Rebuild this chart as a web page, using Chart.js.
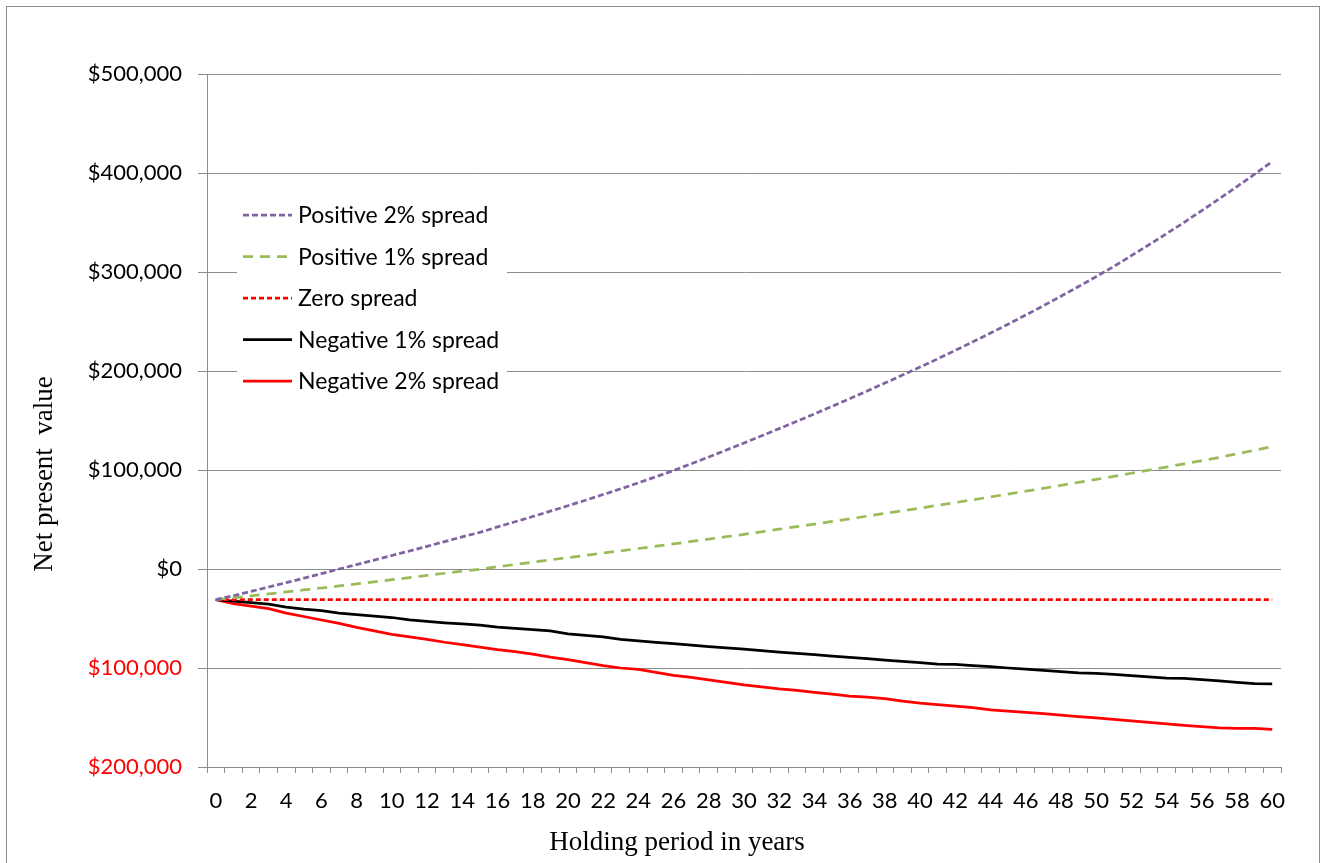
<!DOCTYPE html>
<html lang="en">
<head>
    <meta charset="UTF-8">
    <title>Net present value by holding period</title>
    <script src="https://cdn.jsdelivr.net/npm/chart.js"></script>
    <style>
        body { margin: 0; background: #fff; }
        #frame { position: absolute; left: 6px; top: 6px; width: 1312px; height: 900px; border: 1px solid #8c8c8c; }
        #wrap { position: absolute; left: 0; top: 0; width: 1325px; height: 863px; }
    </style>
</head>
<body>
    <div id="frame"></div>
    <div id="wrap"><canvas id="npvChart"></canvas></div>

    <script>
        // holding period, years 0..60
        const years = ['0','1','2','3','4','5','6','7','8','9','10','11','12','13','14','15','16','17','18','19','20',
            '21','22','23','24','25','26','27','28','29','30','31','32','33','34','35','36','37','38','39','40',
            '41','42','43','44','45','46','47','48','49','50','51','52','53','54','55','56','57','58','59','60'];

        // net present value in dollars
        const positive2 = [-31000,-27000,-22600,-18200,-13800,-9300,-4700,0,4500,9000,13600,18200,22900,27700,32500,37000,
            42500,47700,53000,58400,63900,69500,75200,81000,87000,93200,99500,106300,113200,120200,127300,134500,141800,
            149200,156700,164300,172000,179800,187800,195900,204000,212300,220800,229500,238300,247300,256500,265900,
            275500,285300,295300,305500,316500,327500,338700,350200,362000,374000,386300,398800,411500];
        const positive1 = [-31000,-29100,-27200,-25200,-23200,-21200,-19200,-17100,-15000,-12900,-10800,-8700,-6500,-4300,
            -2100,-300,2300,4600,6900,9200,11500,13800,16100,18400,20700,23000,25400,27800,30200,32600,35000,37600,40200,
            42800,45400,48000,50700,53400,56100,58800,61500,64300,67100,69900,72800,75700,78600,81500,84500,87500,90500,
            93600,96700,99800,103000,106200,109400,112700,116300,120000,123700];
        const zeroSpread = [-31000,-31000,-31000,-31000,-31000,-31000,-31000,-31000,-31000,-31000,-31000,-31000,-31000,
            -31000,-31000,-31000,-31000,-31000,-31000,-31000,-31000,-31000,-31000,-31000,-31000,-31000,-31000,-31000,
            -31000,-31000,-31000,-31000,-31000,-31000,-31000,-31000,-31000,-31000,-31000,-31000,-31000,-31000,-31000,
            -31000,-31000,-31000,-31000,-31000,-31000,-31000,-31000,-31000,-31000,-31000,-31000,-31000,-31000,-31000,
            -31000,-31000,-31000];
        const negative1 = [-31000,-32500,-34000,-35500,-38500,-40500,-42000,-44500,-46000,-47500,-49000,-51500,-53000,
            -54300,-55500,-56800,-58800,-60000,-61200,-62500,-65500,-67000,-68500,-71000,-72500,-74000,-75500,-77000,
            -78300,-79600,-81000,-82500,-84000,-85300,-86600,-88000,-89300,-90600,-92000,-93200,-94500,-96000,-96300,
            -97500,-98700,-100000,-101200,-102500,-103700,-105000,-105400,-106500,-107800,-109000,-110300,-110500,
            -111800,-113000,-114500,-115800,-116000];
        const negative2 = [-31000,-35000,-37500,-40000,-44500,-48000,-51500,-55000,-59000,-62500,-66000,-68500,-71000,
            -74000,-76500,-79000,-81500,-83500,-86000,-89000,-91500,-94500,-97500,-100000,-101500,-104500,-107500,
            -109400,-112000,-114500,-117000,-119000,-121000,-122500,-124600,-126500,-128300,-129500,-131000,-133500,
            -135500,-137000,-138500,-140000,-142400,-143500,-144800,-146200,-147500,-149000,-150500,-152000,-153500,
            -155000,-156500,-158000,-159300,-160500,-161000,-161000,-162000];

        const seriesNames = ['Positive 2% spread', 'Positive 1% spread', 'Zero spread', 'Negative 1% spread', 'Negative 2% spread'];
        const yTicks = [-200000, -100000, 0, 100000, 200000, 300000, 400000, 500000];

        const tickFont = { family: 'Lato', size: 22 };
        const titleFont = '27px "Liberation Serif"';

        // legend drawn inside the plot, on a white box over the gridlines
        const insideLegend = {
            id: 'insideLegend',
            beforeDatasetsDraw(chart) {
                const ctx = chart.ctx;
                const area = chart.chartArea;
                ctx.save();
                ctx.fillStyle = '#fff';
                ctx.fillRect(area.left + 30, area.top + 118, 270, 212);
                ctx.font = '23px Lato';
                ctx.textBaseline = 'middle';
                chart.data.datasets.forEach((ds, i) => {
                    const y = area.top + 141 + i * 41.5;
                    ctx.strokeStyle = ds.borderColor;
                    ctx.lineWidth = ds.borderWidth;
                    ctx.setLineDash(ds.borderDash || []);
                    ctx.beginPath();
                    ctx.moveTo(area.left + 36, y);
                    ctx.lineTo(area.left + 85, y);
                    ctx.stroke();
                    ctx.setLineDash([]);
                    ctx.fillStyle = '#000';
                    ctx.fillText(ds.label, area.left + 91, y + 1);
                });
                ctx.restore();
            }
        };

        // axis titles, placed like the original
        const axisTitles = {
            id: 'axisTitles',
            afterDraw(chart) {
                const ctx = chart.ctx;
                const area = chart.chartArea;
                ctx.save();
                ctx.font = titleFont;
                ctx.fillStyle = '#000';
                ctx.textAlign = 'center';
                ctx.textBaseline = 'middle';
                ctx.fillText('Holding period in years', area.left + 470, area.bottom + 76);
                ctx.translate(45, area.top + 400);
                ctx.rotate(-Math.PI / 2);
                ctx.fillText('Net present  value', 0, 0);
                ctx.restore();
            }
        };

        const ctx = document.getElementById('npvChart').getContext('2d');
        const npvChart = new Chart(ctx, {
            type: 'line',
            data: {
                labels: years,
                datasets: [
                    { label: seriesNames[0], data: positive2, borderColor: '#8064A2', borderWidth: 2.75, borderDash: [6, 3] },
                    { label: seriesNames[1], data: positive1, borderColor: '#9BBB59', borderWidth: 2.75, borderDash: [10, 7] },
                    { label: seriesNames[2], data: zeroSpread, borderColor: '#FF0000', borderWidth: 2.75, borderDash: [5, 3] },
                    { label: seriesNames[3], data: negative1, borderColor: '#000000', borderWidth: 2.75 },
                    { label: seriesNames[4], data: negative2, borderColor: '#FF0000', borderWidth: 2.75 }
                ]
            },
            options: {
                responsive: true,
                maintainAspectRatio: false,
                animation: false,
                layout: { padding: { left: 0, top: 74, right: 44, bottom: 0 } },
                elements: { point: { radius: 0 }, line: { tension: 0 } },
                plugins: {
                    legend: { display: false },
                    tooltip: { enabled: false }
                },
                scales: {
                    x: {
                        type: 'category',
                        offset: true,
                        afterFit(scale) { scale.height = 96; },
                        grid: { offset: true, drawOnChartArea: false, color: '#8c8c8c', tickLength: 6 },
                        border: { color: '#8c8c8c' },
                        ticks: {
                            autoSkip: false,
                            maxRotation: 0,
                            padding: 15,
                            color: '#000',
                            font: tickFont,
                            callback(val, idx) { return idx % 2 === 0 ? this.getLabelForValue(val) : ''; }
                        }
                    },
                    y: {
                        min: yTicks[0],
                        max: yTicks[yTicks.length - 1],
                        afterFit(scale) { scale.width = 207; },
                        afterBuildTicks(scale) { scale.ticks = yTicks.map(v => ({ value: v })); },
                        grid: { color: '#8c8c8c', tickLength: 9 },
                        border: { color: '#8c8c8c' },
                        ticks: {
                            padding: 16,
                            font: tickFont,
                            color: (c) => c.tick && c.tick.value < 0 ? '#FF0000' : '#000',
                            callback: (v) => '$' + Math.abs(v).toLocaleString('en-US')
                        }
                    }
                }
            },
            plugins: [insideLegend, axisTitles]
        });
    </script>
</body>
</html>
